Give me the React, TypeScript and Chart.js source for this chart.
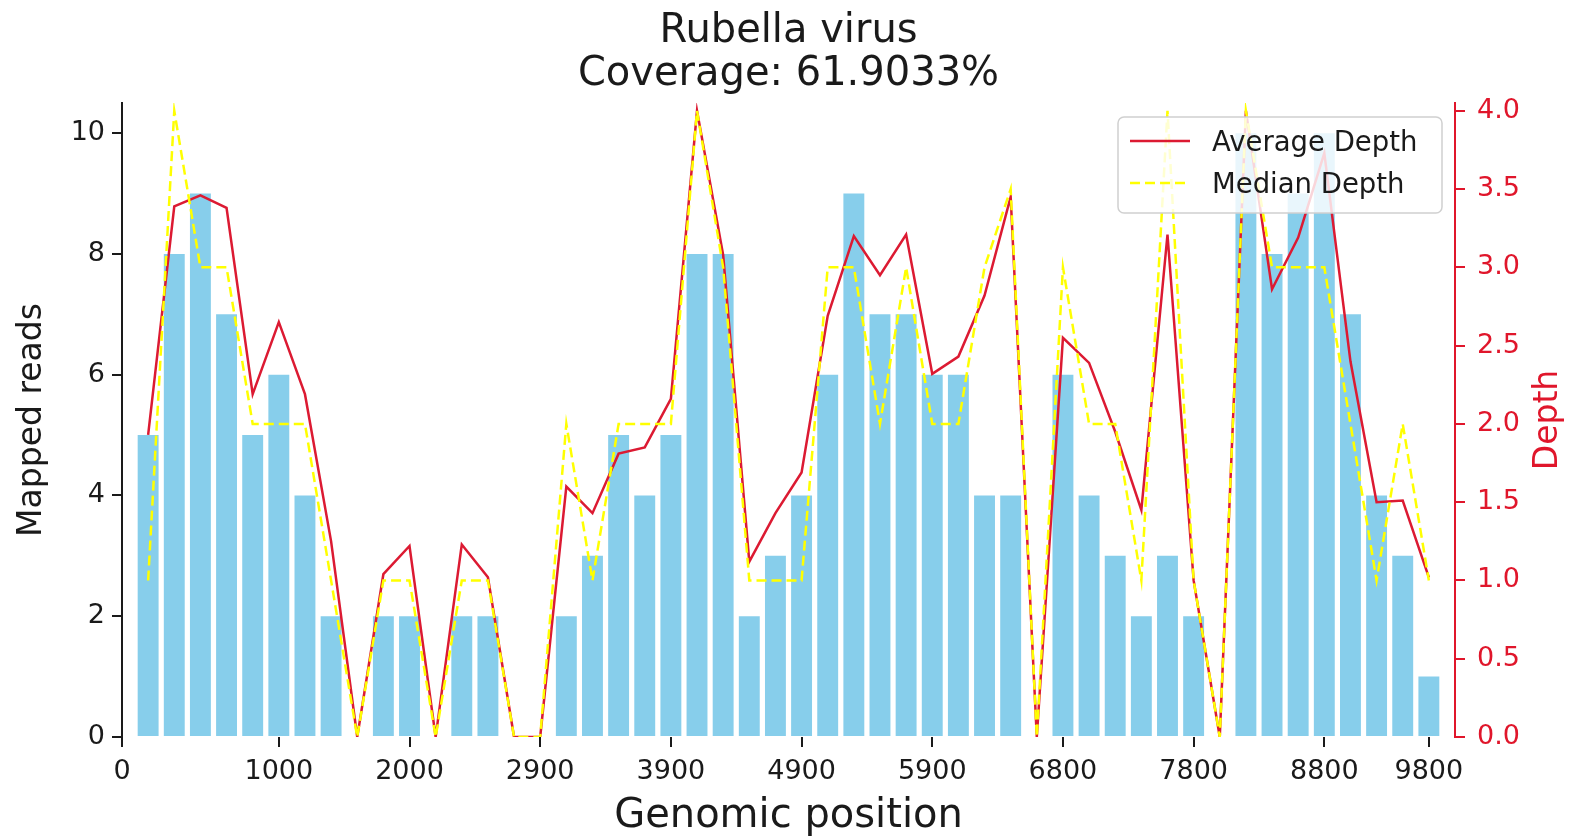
import { useEffect, useRef } from 'react';
import { Chart, registerables } from 'chart.js';
import type { Plugin } from 'chart.js';

Chart.register(...registerables);

const FONT = 'DejaVu Sans';

const titleLines = ['Rubella virus', 'Coverage: 61.9033%'];

// one bar per genome bin, indexed 0..49
const binIndex = Array.from({ length: 50 }, (_, i) => i);

const mappedReads = [
  5, 8, 9, 7, 5, 6, 4, 2, 0, 2,
  2, 0, 2, 2, 0, 0, 2, 3, 5, 4,
  5, 8, 8, 2, 3, 4, 6, 9, 7, 7,
  6, 6, 4, 4, 0, 6, 4, 3, 2, 3,
  2, 0, 10, 8, 9, 10, 7, 4, 3, 1,
];

const averageDepth = [
  1.93, 3.39, 3.46, 3.38, 2.19, 2.65, 2.19, 1.25, 0, 1.04,
  1.22, 0, 1.23, 1.02, 0, 0, 1.6, 1.43, 1.81, 1.85,
  2.16, 4.0, 3.08, 1.12, 1.43, 1.69, 2.69, 3.2, 2.95, 3.21,
  2.32, 2.43, 2.82, 3.45, 0, 2.55, 2.39, 1.95, 1.45, 3.21,
  1.0, 0, 4.0, 2.86, 3.19, 3.73, 2.4, 1.5, 1.51, 1.02,
];

const medianDepth = [
  1, 4, 3, 3, 2, 2, 2, 1, 0, 1,
  1, 0, 1, 1, 0, 0, 2, 1, 2, 2,
  2, 4, 3, 1, 1, 1, 3, 3, 2, 3,
  2, 2, 3, 3.5, 0, 3, 2, 2, 1, 4,
  1, 0, 4, 3, 3, 3, 2, 1, 2, 1,
];

// x ticks sit on bin indices, labelled with genomic positions
const xTickPositions = [-1, 5, 10, 15, 20, 25, 30, 35, 40, 45, 49];
const xTickLabels = ['0', '1000', '2000', '2900', '3900', '4900', '5900', '6800', '7800', '8800', '9800'];

const legendOrder = ['Average Depth', 'Median Depth'];

const RED = '#e0162b';
const TEXT = '#1a1a1a';

const titlePlugin: Plugin = {
  id: 'stackedTitle',
  afterDraw(chart) {
    const { ctx, chartArea } = chart;
    const cx = (chartArea.left + chartArea.right) / 2;
    ctx.save();
    ctx.fillStyle = TEXT;
    ctx.font = `40px "${FONT}"`;
    ctx.textAlign = 'center';
    ctx.textBaseline = 'alphabetic';
    ctx.fillText(titleLines[0], cx, 42);
    ctx.fillText(titleLines[1], cx, 85);
    ctx.restore();
  },
};

const depthTitlePlugin: Plugin = {
  id: 'depthTitle',
  afterDraw(chart) {
    const { ctx, chartArea } = chart;
    const scale = chart.scales.y1;
    ctx.save();
    ctx.translate(scale.right - 44, (chartArea.top + chartArea.bottom) / 2);
    ctx.rotate(-Math.PI / 2);
    ctx.fillStyle = RED;
    ctx.font = `33px "${FONT}"`;
    ctx.textAlign = 'center';
    ctx.textBaseline = 'middle';
    ctx.fillText('Depth', 0, 0);
    ctx.restore();
  },
};

const boxLegendPlugin: Plugin = {
  id: 'boxLegend',
  afterDatasetsDraw(chart) {
    const { ctx, chartArea } = chart;
    const lines = legendOrder
      .map((name) => chart.data.datasets.find((d: any) => d.label === name))
      .filter(Boolean);
    const w = 324;
    const h = 96;
    const x = chartArea.right - 13 - w;
    const y = chartArea.top + 14;
    ctx.save();
    ctx.beginPath();
    ctx.roundRect(x, y, w, h, 6);
    ctx.fillStyle = 'rgba(255,255,255,0.82)';
    ctx.fill();
    ctx.strokeStyle = '#d0d0d0';
    ctx.lineWidth = 1.5;
    ctx.stroke();
    ctx.font = `27.5px "${FONT}"`;
    ctx.textBaseline = 'alphabetic';
    ctx.textAlign = 'left';
    lines.forEach((d: any, i: number) => {
      const base = y + 34 + i * 42;
      ctx.beginPath();
      ctx.setLineDash(d.borderDash || []);
      ctx.strokeStyle = d.borderColor;
      ctx.lineWidth = d.borderWidth;
      ctx.moveTo(x + 12, base - 10);
      ctx.lineTo(x + 72, base - 10);
      ctx.stroke();
      ctx.setLineDash([]);
      ctx.fillStyle = TEXT;
      ctx.fillText(d.label, x + 94, base);
    });
    ctx.restore();
  },
};

export default function App() {
  const canvasRef = useRef<HTMLCanvasElement>(null);

  useEffect(() => {
    const canvas = canvasRef.current;
    if (!canvas) return;

    const chart = new Chart(canvas, {
      type: 'bar',
      data: {
        datasets: [
          {
            type: 'line',
            label: 'Median Depth',
            data: medianDepth.map((v, i) => ({ x: binIndex[i], y: v })),
            yAxisID: 'y1',
            borderColor: '#ffff00',
            borderWidth: 2.5,
            borderDash: [10, 5],
            pointRadius: 0,
            tension: 0,
            fill: false,
            order: 0,
          },
          {
            type: 'line',
            label: 'Average Depth',
            data: averageDepth.map((v, i) => ({ x: binIndex[i], y: v })),
            yAxisID: 'y1',
            borderColor: '#dc1a32',
            borderWidth: 2.5,
            pointRadius: 0,
            tension: 0,
            fill: false,
            order: 1,
          },
          {
            type: 'bar',
            label: 'Mapped reads',
            data: mappedReads.map((v, i) => ({ x: binIndex[i], y: v })),
            yAxisID: 'y',
            backgroundColor: '#87ceeb',
            barPercentage: 0.8,
            categoryPercentage: 1,
            order: 2,
          },
        ] as any,
      },
      options: {
        responsive: true,
        maintainAspectRatio: false,
        animation: false,
        layout: { padding: { top: 103, left: 0, right: 0, bottom: 0 } },
        plugins: {
          legend: { display: false },
          tooltip: { enabled: false },
          title: { display: false },
        },
        scales: {
          x: {
            type: 'linear',
            min: -1,
            max: 50,
            offset: false,
            afterBuildTicks: (s: any) => {
              s.ticks = xTickPositions.map((v) => ({ value: v }));
            },
            afterFit: (s: any) => {
              s.height = 102;
            },
            border: { display: false },
            grid: {
              offset: false,
              drawOnChartArea: false,
              drawTicks: true,
              tickLength: 10,
              lineWidth: 2,
              color: TEXT,
            },
            ticks: {
              autoSkip: false,
              maxRotation: 0,
              padding: 9,
              color: TEXT,
              font: { family: FONT, size: 27 },
              callback: (v: any) => xTickLabels[xTickPositions.indexOf(Number(v))] ?? '',
            },
            title: {
              display: true,
              text: 'Genomic position',
              color: TEXT,
              font: { family: FONT, size: 40, lineHeight: 1.1 },
              padding: { top: 0, bottom: 0 },
            },
          },
          y: {
            position: 'left',
            min: 0,
            max: 10.5,
            afterFit: (s: any) => {
              s.width = 122;
            },
            border: { display: true, color: TEXT, width: 2 },
            grid: { drawOnChartArea: false, tickLength: 10, lineWidth: 2, color: TEXT },
            ticks: {
              stepSize: 2,
              includeBounds: false,
              padding: 7,
              color: TEXT,
              font: { family: FONT, size: 27 },
            },
            title: {
              display: true,
              text: 'Mapped reads',
              color: TEXT,
              font: { family: FONT, size: 33 },
              padding: { top: 13, bottom: 0 },
            },
          },
          y1: {
            position: 'right',
            min: 0,
            max: 4.05,
            afterFit: (s: any) => {
              s.width = 137;
            },
            border: { display: true, color: RED, width: 2 },
            grid: { drawOnChartArea: false, tickLength: 10, lineWidth: 2, color: RED },
            ticks: {
              stepSize: 0.5,
              includeBounds: false,
              padding: 12,
              color: RED,
              font: { family: FONT, size: 27 },
              callback: (v: any) => Number(v).toFixed(1),
            },
          },
        },
      },
      plugins: [titlePlugin, depthTitlePlugin, boxLegendPlugin],
    });

    return () => {
      chart.destroy();
    };
  }, []);

  return (
    <div style={{ position: 'fixed', left: 0, top: 0, width: '1592px', height: '839px', background: '#fff' }}>
      <canvas ref={canvasRef} />
    </div>
  );
}
